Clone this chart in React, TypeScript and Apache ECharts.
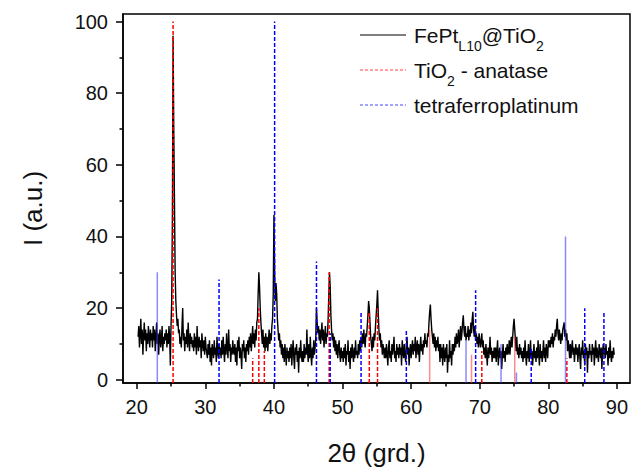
import React, { useEffect, useRef } from 'react';
import * as echarts from 'echarts';

// measured pattern: 2θ grid start / step and intensity (a.u.)
const angleStart = 20.2;
const angleStep = 0.1;
const intensity = [
  12, 15, 9, 13, 17, 10, 14, 7, 12, 16, 11, 14, 8, 13, 10, 15, 12, 9, 14, 11,
  13, 9, 15, 11, 14, 8, 12, 16, 10, 13, 7, 12, 14, 9, 11, 15, 8, 12, 10, 13,
  11, 14, 9, 13, 10, 15, 12, 4, 15, 22, 45, 96, 70, 50, 30, 22, 18, 15, 17, 13,
  14, 10, 12, 9, 15, 20, 11, 13, 8, 12, 10, 14, 9, 16, 11, 8, 13, 10, 12, 9,
  11, 8, 13, 9, 12, 7, 15, 10, 8, 12, 9, 11, 6, 13, 10, 8, 11, 7, 12, 9,
  9, 6, 10, 7, 11, 5, 9, 4, 10, 8, 6, 11, 7, 9, 5, 12, 8, 6, 10, 7,
  9, 6, 11, 7, 12, 8, 5, 10, 7, 13, 9, 6, 14, 8, 10, 5, 9, 7, 11, 8,
  7, 10, 5, 9, 4, 11, 8, 12, 6, 9, 7, 3, 10, 8, 11, 6, 9, 5, 10, 8,
  11, 7, 12, 9, 13, 8, 11, 15, 10, 13, 9, 14, 11, 16, 17, 24, 30, 26, 20, 16,
  13, 10, 14, 9, 12, 8, 13, 9, 12, 8, 11, 14, 10, 13, 11, 15, 17, 24, 46, 30,
  22, 27, 24, 17, 14, 11, 13, 9, 11, 7, 10, 6, 9, 5, 10, 7, 4, 9, 6, 8,
  5, 9, 6, 10, 4, 8, 11, 6, 3, 9, 7, 10, 5, 8, 2, 9, 6, 11, 7, 5,
  8, 5, 10, 6, 9, 7, 14, 8, 5, 10, 6, 12, 7, 4, 9, 6, 11, 7, 9, 12,
  20, 16, 13, 15, 11, 14, 10, 13, 16, 11, 14, 9, 12, 15, 10, 13, 12, 17, 24, 30,
  26, 18, 14, 11, 13, 9, 12, 8, 11, 7, 10, 6, 9, 11, 7, 5, 9, 6, 8, 5,
  9, 6, 10, 4, 8, 7, 11, 5, 8, 3, 9, 6, 10, 7, 5, 9, 6, 11, 7, 8,
  6, 10, 7, 11, 8, 12, 9, 13, 10, 14, 11, 9, 13, 12, 15, 18, 22, 20, 16, 12,
  10, 8, 12, 9, 13, 11, 15, 18, 21, 25, 19, 14, 11, 13, 9, 11, 7, 10, 8, 6,
  9, 6, 10, 7, 4, 9, 11, 6, 8, 5, 10, 7, 9, 12, 6, 8, 5, 10, 7, 9,
  6, 10, 7, 9, 4, 11, 8, 6, 10, 7, 5, 9, 12, 7, 9, 4, 8, 10, 6, 9,
  11, 7, 10, 8, 12, 6, 9, 11, 7, 10, 5, 9, 12, 8, 10, 7, 11, 9, 13, 10,
  11, 9, 13, 12, 16, 19, 21, 17, 14, 12, 10, 13, 9, 12, 8, 11, 9, 12, 8, 10,
  5, 10, 6, 9, 4, 10, 7, 5, 9, 6, 10, 2, 7, 5, 11, 6, 8, 4, 10, 7,
  10, 8, 12, 9, 13, 10, 11, 14, 9, 12, 15, 11, 13, 16, 18, 14, 12, 15, 11, 13,
  12, 15, 11, 14, 12, 16, 13, 17, 19, 14, 12, 15, 11, 13, 10, 12, 9, 13, 11, 9,
  11, 13, 9, 11, 7, 9, 6, 10, 7, 4, 9, 6, 8, 12, 7, 9, 5, 8, 6, 9,
  6, 9, 5, 8, 11, 4, 7, 9, 6, 8, 3, 7, 10, 6, 8, 5, 9, 7, 10, 7,
  8, 11, 7, 10, 12, 9, 12, 15, 17, 14, 11, 8, 12, 7, 9, 6, 10, 7, 9, 6,
  8, 5, 9, 6, 11, 7, 4, 8, 6, 10, 5, 7, 11, 6, 8, 4, 7, 10, 6, 8,
  5, 9, 6, 11, 7, 4, 10, 6, 8, 5, 8, 11, 6, 9, 5, 10, 8, 6, 11, 9,
  11, 9, 12, 10, 13, 9, 12, 11, 14, 12, 15, 17, 13, 11, 14, 12, 10, 13, 11, 14,
  15, 16, 12, 14, 11, 13, 8, 11, 9, 6, 10, 6, 9, 11, 7, 9, 5, 8, 10, 7,
  9, 5, 8, 10, 6, 3, 9, 7, 11, 6, 8, 4, 10, 7, 9, 2, 8, 6, 10, 7,
  8, 5, 10, 7, 9, 4, 8, 11, 6, 9, 7, 5, 10, 8, 6, 9, 3, 8, 10, 7,
  9, 6, 10, 7, 8, 4, 9, 6, 11, 7, 5, 8, 6, 9, 7,
];

// reference patterns (position 2θ, relative intensity)
const anatasePos = [25.3, 36.9, 37.8, 38.6, 48.05, 53.9, 55.1, 70.3, 82.7];
const anataseInt = [100, 6, 20, 8, 30, 19, 20, 8, 6];
const anataseWeakPos = [62.7, 68.8, 75.1];
const anataseWeakInt = [14, 7, 12];

const fePtPos = [32.0, 40.1, 46.2, 48.2, 52.7, 59.3, 69.4, 77.5, 85.3, 88.1];
const fePtInt = [28, 100, 33, 13, 19, 14, 25, 9, 20, 19];
const fePtWeakPos = [23.0, 68.0, 73.1, 75.35, 82.5];
const fePtWeakInt = [30, 11, 10, 2, 40];

const xLabels = [20, 30, 40, 50, 60, 70, 80, 90];
const xMinor = [25, 35, 45, 55, 65, 75, 85];
const yLabels = [0, 20, 40, 60, 80, 100];
const yMinor = [10, 30, 50, 70, 90];

const seriesNames = ['FePtL10@TiO2', 'TiO2 - anatase', 'tetraferroplatinum'];

const X_MIN = 18;
const X_MAX = 91.9;
const Y_MIN = -0.9;
const Y_MAX = 102.1;

const FONT_NAME = 'Liberation Sans';
const FONT = 'Liberation Sans, Arial, sans-serif';

function sticks(pos: number[], h: number[]) {
  const out: any[] = [];
  pos.forEach((p, i) => {
    out.push([p, Y_MIN], [p, h[i]], [p, '-']);
  });
  return out;
}

function measure(text: string, size: number) {
  const c = document.createElement('canvas').getContext('2d');
  if (!c) return text.length * size * 0.55;
  c.font = `${size}px "${FONT_NAME}"`;
  return c.measureText(text).width;
}

// legend drawn as graphic: rows of [text, isSubscript] parts
function legendGraphic() {
  const MAIN = 21;
  const SUB = 14;
  const lineX0 = 360;
  const lineX1 = 406;
  const textX = 414;
  const rows: { y: number; parts: [string, boolean][]; stroke: string; dash: number[] | null }[] = [
    { y: 35, parts: [['FePt', false], ['L10', true], ['@TiO', false], ['2', true]], stroke: '#000', dash: null },
    { y: 70, parts: [['TiO', false], ['2', true], [' - anatase', false]], stroke: '#ff4040', dash: [3, 2] },
    { y: 105, parts: [['tetraferroplatinum', false]], stroke: '#4848ff', dash: [3, 2] },
  ];
  const els: any[] = [];
  rows.forEach((r) => {
    els.push({
      type: 'line',
      shape: { x1: lineX0, y1: r.y, x2: lineX1, y2: r.y },
      style: { stroke: r.stroke, lineWidth: 1.2, lineDash: r.dash || undefined },
      silent: true,
    });
    let x = textX;
    r.parts.forEach(([t, sub]) => {
      const size = sub ? SUB : MAIN;
      els.push({
        type: 'text',
        x,
        y: sub ? r.y + 11 : r.y,
        style: {
          text: t,
          fontSize: size,
          fontFamily: FONT,
          fill: '#111',
          verticalAlign: 'middle',
          align: 'left',
        },
        silent: true,
      });
      x += measure(t, size);
    });
  });
  return els;
}

export default function App() {
  const ref = useRef<HTMLDivElement>(null);

  useEffect(() => {
    if (!ref.current) return;
    const chart = echarts.init(ref.current, undefined, { renderer: 'svg' });

    const pattern = intensity.map((v, i) => [
      Math.round((angleStart + i * angleStep) * 100) / 100,
      v,
    ]);

    const tickStyle = { color: '#000', width: 1.5 };
    const labelStyle = { fontSize: 20, fontFamily: FONT, color: '#111' };

    const option: any = {
      animation: false,
      backgroundColor: '#fff',
      grid: {
        left: 123,
        right: 3,
        top: 14,
        bottom: 84,
        show: true,
        borderColor: '#000',
        borderWidth: 1.5,
      },
      graphic: legendGraphic(),
      xAxis: [
        {
          type: 'value',
          min: X_MIN,
          max: X_MAX,
          position: 'bottom',
          name: '2θ (grd.)',
          nameLocation: 'middle',
          nameGap: 57,
          nameTextStyle: { fontSize: 26, fontFamily: FONT, color: '#111' },
          axisLine: { show: true, onZero: false, lineStyle: { color: '#000', width: 1.5 } },
          axisTick: { show: true, inside: false, length: 6, customValues: xLabels, lineStyle: tickStyle },
          axisLabel: { customValues: xLabels, margin: 14, ...labelStyle },
          splitLine: { show: false },
        },
        {
          type: 'value',
          min: X_MIN,
          max: X_MAX,
          position: 'bottom',
          axisLine: { show: false, onZero: false },
          axisTick: { show: true, inside: false, length: 3.5, customValues: xMinor, lineStyle: tickStyle },
          axisLabel: { show: false },
          splitLine: { show: false },
        },
      ],
      yAxis: [
        {
          type: 'value',
          min: Y_MIN,
          max: Y_MAX,
          position: 'left',
          name: 'I (a.u.)',
          nameLocation: 'middle',
          nameGap: 77,
          nameTextStyle: { fontSize: 26, fontFamily: FONT, color: '#111', padding: [0, 20, 0, 0] },
          axisLine: { show: true, onZero: false, lineStyle: { color: '#000', width: 1.5 } },
          axisTick: { show: true, inside: false, length: 7, customValues: yLabels, lineStyle: tickStyle },
          axisLabel: { customValues: yLabels, margin: 15, ...labelStyle },
          splitLine: { show: false },
        },
        {
          type: 'value',
          min: Y_MIN,
          max: Y_MAX,
          position: 'left',
          axisLine: { show: false, onZero: false },
          axisTick: { show: true, inside: false, length: 3.5, customValues: yMinor, lineStyle: tickStyle },
          axisLabel: { show: false },
          splitLine: { show: false },
        },
      ],
      series: [
        {
          name: seriesNames[0],
          type: 'line',
          data: pattern,
          symbol: 'none',
          lineStyle: { color: '#000', width: 1.4 },
        },
        {
          name: seriesNames[1],
          type: 'line',
          data: sticks(anatasePos, anataseInt),
          symbol: 'none',
          connectNulls: false,
          lineStyle: { color: '#ff0000', width: 1.5, type: [4, 2] },
        },
        {
          name: seriesNames[1],
          type: 'line',
          data: sticks(anataseWeakPos, anataseWeakInt),
          symbol: 'none',
          connectNulls: false,
          lineStyle: { color: 'rgba(255,60,60,0.6)', width: 1.5 },
        },
        {
          name: seriesNames[2],
          type: 'line',
          data: sticks(fePtPos, fePtInt),
          symbol: 'none',
          connectNulls: false,
          lineStyle: { color: '#0000ff', width: 1.5, type: [4, 2] },
        },
        {
          name: seriesNames[2],
          type: 'line',
          data: sticks(fePtWeakPos, fePtWeakInt),
          symbol: 'none',
          connectNulls: false,
          lineStyle: { color: 'rgba(60,60,255,0.6)', width: 1.5 },
        },
      ],
    };

    chart.setOption(option);
    return () => chart.dispose();
  }, []);

  return (
    <div
      ref={ref}
      style={{ position: 'absolute', left: 0, top: 0, width: 633, height: 471 }}
    />
  );
}
